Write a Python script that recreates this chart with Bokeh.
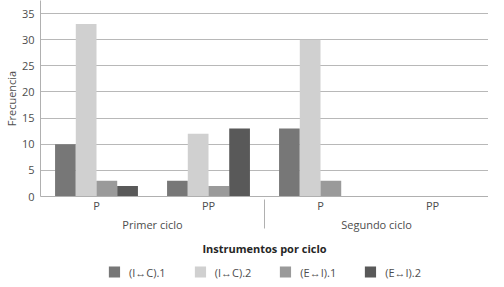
from bokeh.plotting import figure
from bokeh.models import FactorRange, Range1d, Legend, LegendItem, ColumnDataSource
from bokeh.transform import dodge
from bokeh.layouts import column
from bokeh.embed import file_html
from bokeh.resources import INLINE

ciclos = ["Primer ciclo", "Segundo ciclo"]
instrumentos = ["P", "PP"]
series_names = ["(I\u2194C).1", "(I\u2194C).2", "(E\u2194I).1", "(E\u2194I).2"]
ic1 = [10, 3, 13, 0]
ic2 = [33, 12, 30, 0]
ei1 = [3, 2, 3, 0]
ei2 = [2, 13, 0, 0]
colors = ["#777777", "#d0d0d0", "#9a9a9a", "#595959"]

factors = [(c, i) for c in ciclos for i in instrumentos]
src = ColumnDataSource(dict(x=factors, ic1=ic1, ic2=ic2, ei1=ei1, ei2=ei2))

FONT = "Open Sans"
xr = FactorRange(*factors, range_padding=0, group_padding=0, factor_padding=0)
p = figure(width=488, height=259, output_backend="svg", toolbar_location=None,
           x_range=xr, y_range=Range1d(0, 37.5), min_border_left=30, min_border_right=0,
           min_border_top=0, min_border_bottom=63)

bw = 0.185
offsets = [-1.5 * bw, -0.5 * bw, 0.5 * bw, 1.5 * bw]
keys = ["ic1", "ic2", "ei1", "ei2"]
for key, off, col in zip(keys, offsets, colors):
    p.vbar(x=dodge("x", off, range=xr), top=key, width=bw, source=src,
           fill_color=col, line_color=None)

p.outline_line_color = None
p.background_fill_color = "white"
p.xgrid.grid_line_color = None
p.ygrid.grid_line_color = "#b8b8b8"
p.ygrid.grid_line_width = 1

p.yaxis.ticker = [0, 5, 10, 15, 20, 25, 30, 35]
p.yaxis.axis_line_color = "#b0b0b0"
p.yaxis.major_tick_line_color = None
p.yaxis.minor_tick_line_color = None
p.yaxis.major_tick_in = 0
p.yaxis.major_tick_out = 0
p.yaxis.major_label_text_font = FONT
p.yaxis.major_label_text_font_size = "11px"
p.yaxis.major_label_text_color = "#4d4d4d"
p.yaxis.major_label_standoff = 6
p.yaxis.axis_label = "Frecuencia"
p.yaxis.axis_label_text_font = FONT
p.yaxis.axis_label_text_font_size = "11px"
p.yaxis.axis_label_text_font_style = "normal"
p.yaxis.axis_label_text_color = "#4d4d4d"
p.yaxis.axis_label_standoff = 0

xa = p.xaxis[0]
xa.axis_line_color = "#b0b0b0"
xa.major_tick_line_color = None
xa.minor_tick_line_color = None
xa.major_tick_in = 0
xa.major_tick_out = 0
xa.major_label_standoff = 1
xa.major_label_text_font = FONT
xa.major_label_text_font_size = "11px"
xa.major_label_text_color = "#4d4d4d"
xa.group_text_font = FONT
xa.group_text_font_size = "11px"
xa.group_text_color = "#4d4d4d"
xa.group_text_font_style = "normal"
xa.separator_line_color = "#b0b0b0"
xa.separator_line_width = 1
xa.axis_label = "Instrumentos por ciclo"
xa.axis_label_text_font = FONT
xa.axis_label_text_font_size = "11px"
xa.axis_label_text_font_style = "bold"
xa.axis_label_text_color = "#262626"
xa.axis_label_standoff = 6

# legend strip: same bars, drawn out of its visible y range, only their legend swatches show
lg = figure(width=488, height=25, output_backend="svg", toolbar_location=None,
            min_border=0, min_border_left=28, x_axis_type=None, y_axis_type=None,
            x_range=xr, y_range=Range1d(100, 101))
lg.outline_line_color = None
lg.grid.grid_line_color = None
items = []
for key, off, col, name in zip(keys, offsets, colors, series_names):
    r = lg.vbar(x=dodge("x", off, range=xr), top=key, width=bw, source=src,
                fill_color=col, line_color=None)
    items.append(LegendItem(label=name, renderers=[r]))

legend = Legend(items=items, orientation="horizontal", location="center",
                label_text_font=FONT, label_text_font_size="11px",
                label_text_color="#4d4d4d", glyph_width=14, glyph_height=14,
                label_standoff=8, spacing=27, border_line_color=None,
                padding=2, margin=0, background_fill_alpha=0)
lg.add_layout(legend)

open("out.html", "w").write(file_html(column(p, lg, spacing=0), INLINE))
